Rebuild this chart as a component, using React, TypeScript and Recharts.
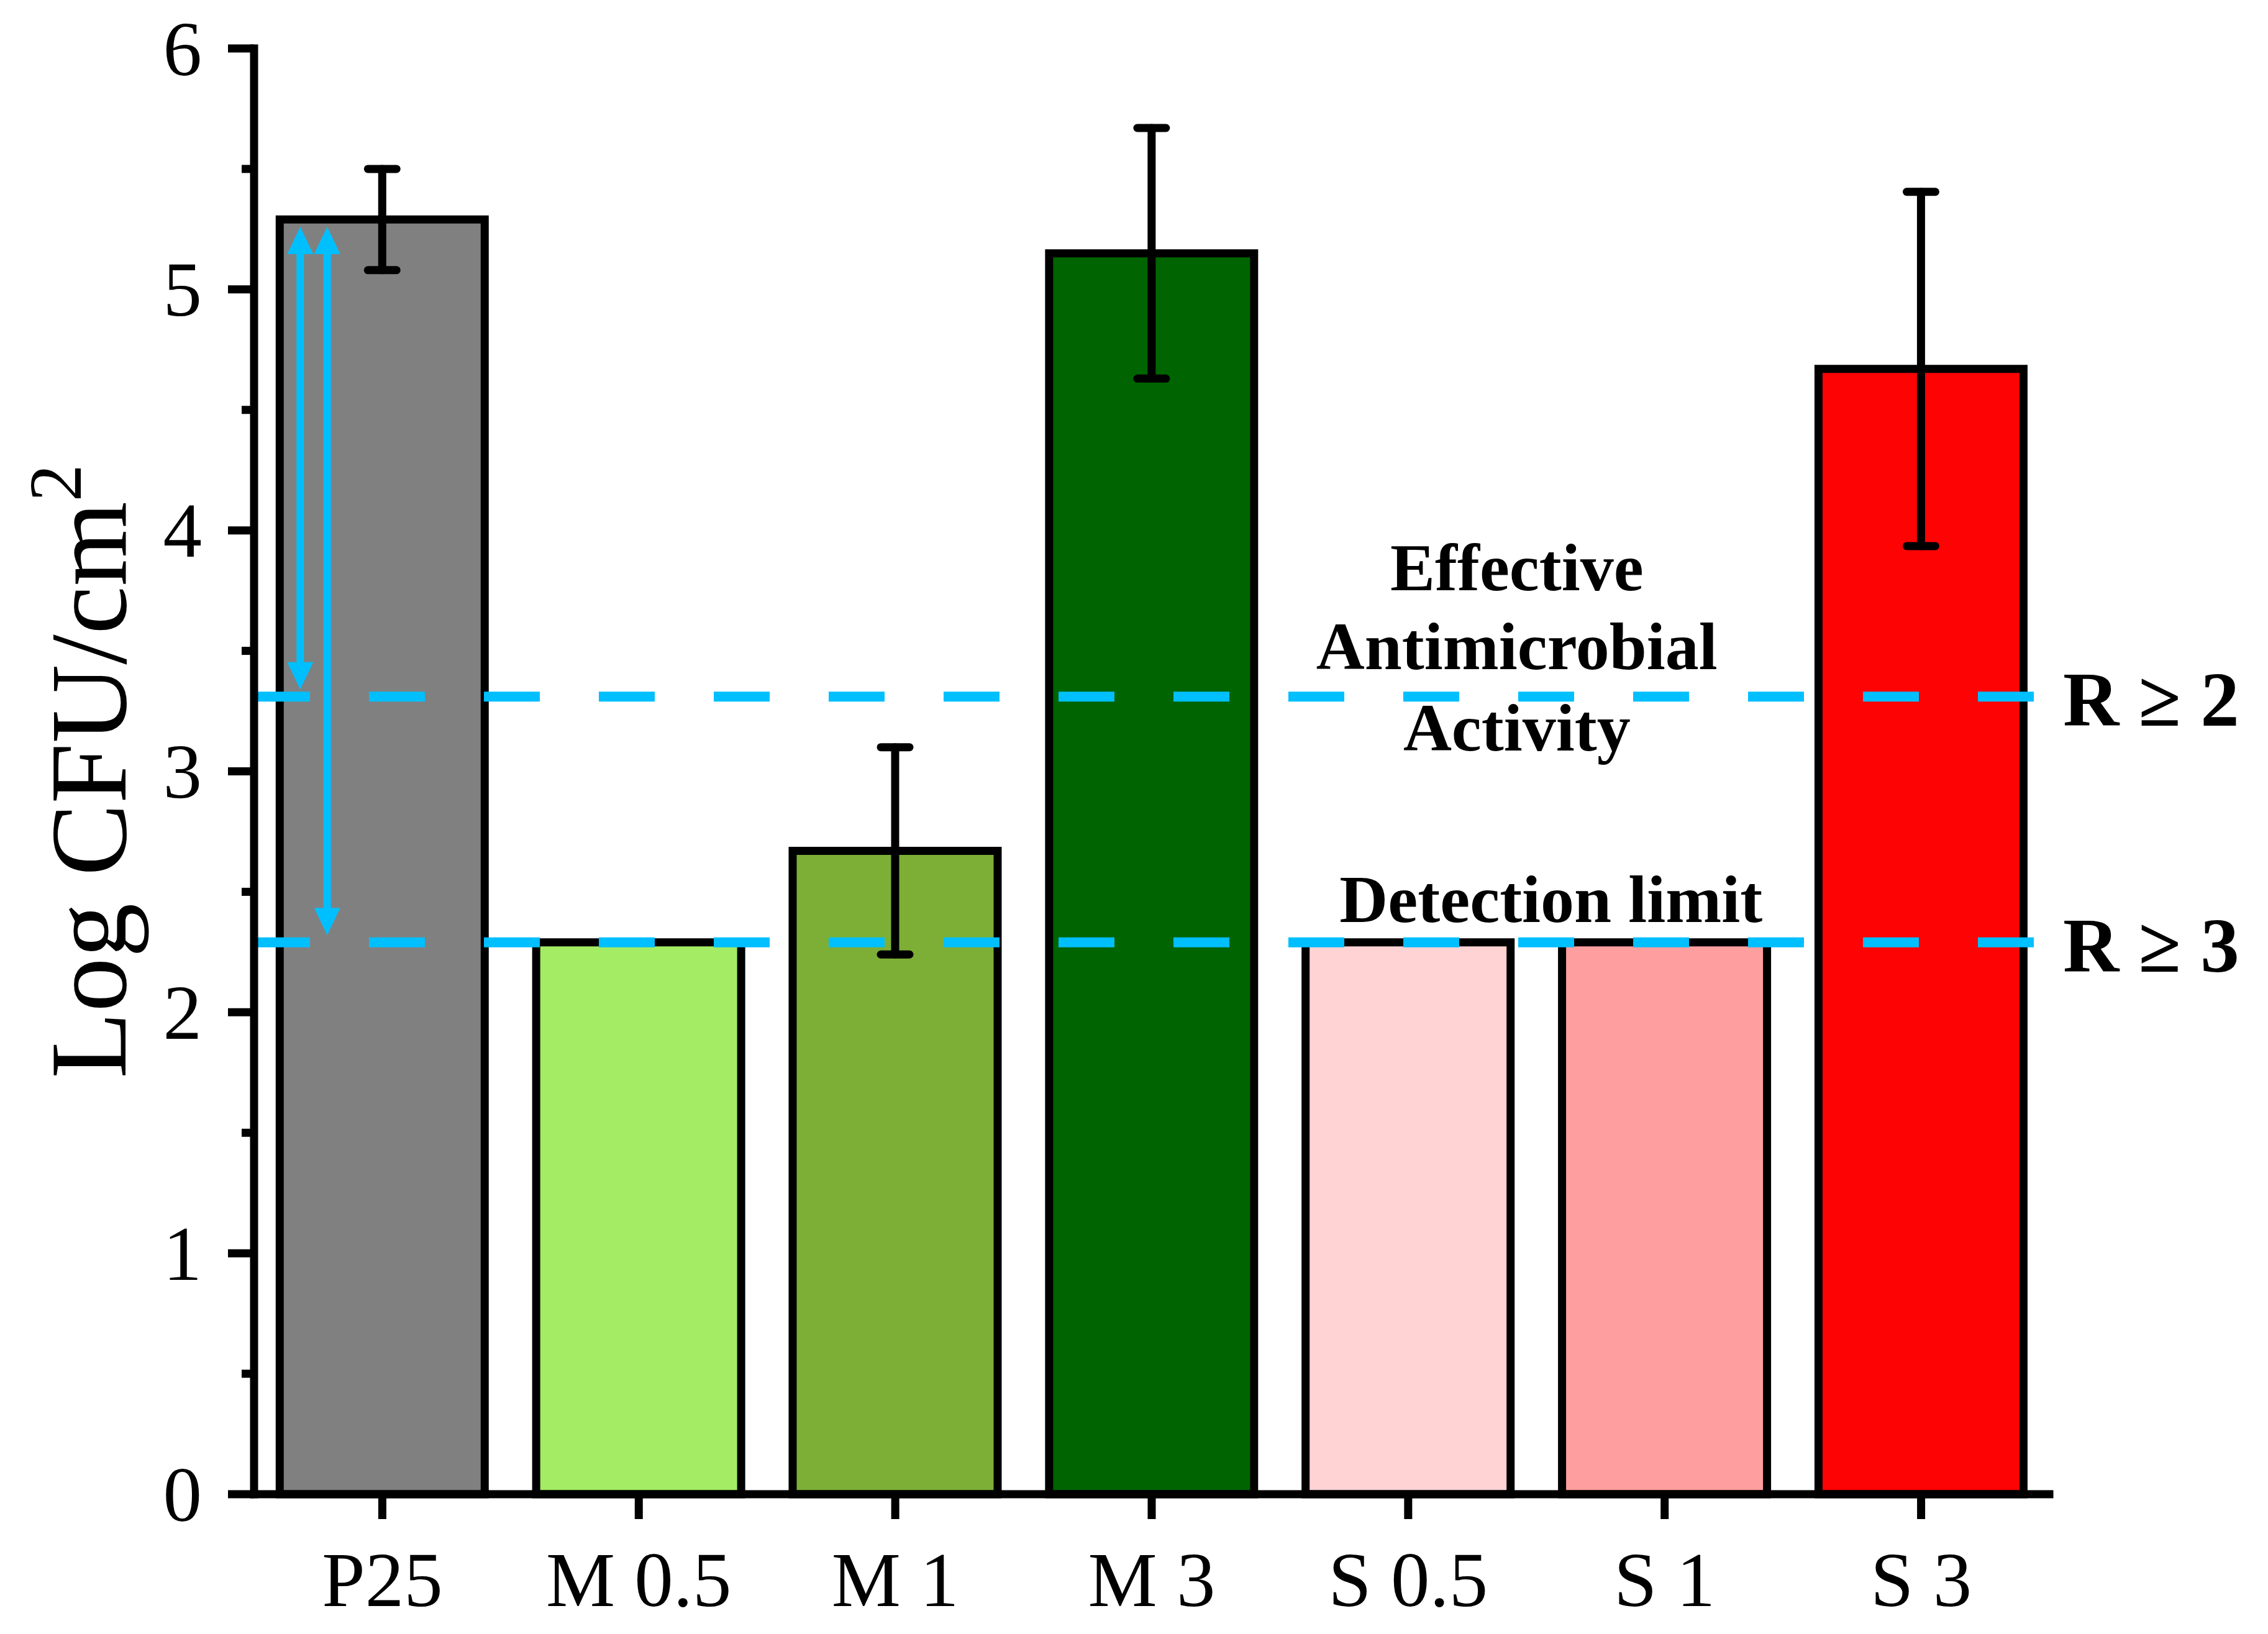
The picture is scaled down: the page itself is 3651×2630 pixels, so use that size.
import React from 'react';
import { BarChart, Bar, XAxis, YAxis, Cell, ErrorBar, ReferenceLine } from 'recharts';

// ---- data ----
const categories = ['P25', 'M 0.5', 'M 1', 'M 3', 'S 0.5', 'S 1', 'S 3'];
const meanValues = [5.29, 2.29, 2.67, 5.15, 2.29, 2.29, 4.67];
const errorValues: (number | null)[] = [0.21, null, 0.43, 0.52, null, null, 0.735];
const barColors = ['#808080', '#A3EC63', '#7DAF37', '#006400', '#FFD3D4', '#FF9E9E', '#FE0303'];
const yTicks = [0, 0.5, 1, 1.5, 2, 2.5, 3, 3.5, 4, 4.5, 5, 5.5, 6];
const thresholdR2 = 3.31;
const thresholdR3 = 2.29;
const arrowXs = [0.18, 0.285]; // positions on a 0..7 category-count scale
const arrowTop = 5.26;
const arrowBottoms = [3.34, 2.32];

const data = categories.map((c, i) => ({ name: c, value: meanValues[i], err: errorValues[i], pos: i + 0.5 }));

// ---- style ----
const FONT = "'Liberation Serif', 'Times New Roman', serif";
const CYAN = '#00BFFF';
const AXIS_W = 13;
const Y_TICK = 42;
const Y_MARGIN = 42;

const YTick = (props: any) => {
  const { x, y, payload } = props;
  const axisX = x + Y_TICK + Y_MARGIN;
  const major = Number.isInteger(payload.value);
  return (
    <g>
      <line x1={axisX - (major ? Y_TICK : 20)} x2={axisX} y1={y} y2={y} stroke="#000" strokeWidth={AXIS_W} />
      {major && (
        <text x={x} y={y} dy="0.34em" textAnchor="end" fontSize={125} fontFamily={FONT} fill="#000">
          {payload.value}
        </text>
      )}
    </g>
  );
};

const ArrowShape = (props: any) => {
  const { x1, y1, x2, y2 } = props;
  const head = 44;
  const half = 21;
  const top = Math.min(y1, y2);
  const bot = Math.max(y1, y2);
  const x = x1;
  return (
    <g>
      <line x1={x} x2={x2} y1={top + head - 4} y2={bot - head + 4} stroke={CYAN} strokeWidth={12} />
      <polygon points={`${x},${top} ${x - half},${top + head} ${x + half},${top + head}`} fill={CYAN} />
      <polygon points={`${x},${bot} ${x - half},${bot - head} ${x + half},${bot - head}`} fill={CYAN} />
    </g>
  );
};

const effectiveLabel = (props: any) => {
  const vb = props.viewBox || {};
  const cx = vb.x + vb.width * 0.7034;
  const common = { fontSize: 108, fontWeight: 'bold', fontFamily: FONT, fill: '#000', textAnchor: 'middle' as const };
  return (
    <g>
      <text x={cx} y={vb.y - 171} {...common}>Effective</text>
      <text x={cx} y={vb.y - 44} {...common}>Antimicrobial</text>
      <text x={cx} y={vb.y + 87} {...common}>Activity</text>
      <text x={vb.x + vb.width + 22} y={vb.y + 47} fontSize={125} fontWeight="bold" fontFamily={FONT} fill="#000">
        R ≥ 2
      </text>
    </g>
  );
};

const detectionLabel = (props: any) => {
  const vb = props.viewBox || {};
  const cx = vb.x + vb.width * 0.7224;
  return (
    <g>
      <text x={cx} y={vb.y - 33} fontSize={108} fontWeight="bold" fontFamily={FONT} fill="#000" textAnchor="middle">
        Detection limit
      </text>
      <text x={vb.x + vb.width + 22} y={vb.y + 47} fontSize={125} fontWeight="bold" fontFamily={FONT} fill="#000">
        R ≥ 3
      </text>
    </g>
  );
};

const yLabel = (props: any) => {
  const vb = props.viewBox || {};
  const cx = vb.x + 43;
  const cy = vb.y + vb.height / 2;
  return (
    <text
      x={cx}
      y={cy}
      transform={`rotate(-90, ${cx}, ${cy})`}
      textAnchor="middle"
      fontSize={175}
      fontFamily={FONT}
      fill="#000"
    >
      Log CFU/cm
      <tspan dy={-72} fontSize={120}>2</tspan>
    </text>
  );
};

export default function App() {
  return (
    <div style={{ width: 3635, height: 2614 }}>
      <BarChart
        width={3635}
        height={2614}
        data={data}
        margin={{ top: 70, right: 344, left: 151, bottom: 0 }}
        barCategoryGap="10%"
      >
        <XAxis
          dataKey="name"
          height={217}
          tickSize={40}
          tickMargin={51}
          interval={0}
          axisLine={{ stroke: '#000', strokeWidth: AXIS_W, strokeLinecap: 'square' }}
          tickLine={{ stroke: '#000', strokeWidth: AXIS_W }}
          tick={{ fontSize: 125, fill: '#000', fontFamily: FONT }}
        />
        <XAxis
          xAxisId="top"
          dataKey="pos"
          orientation="top"
          type="number"
          domain={[0, 7]}
          allowDataOverflow={true}
          height={0}
          tick={false}
          tickLine={false}
          axisLine={{ stroke: '#000', strokeWidth: AXIS_W, strokeLinecap: 'square' }}
        />
        <YAxis
          width={250}
          domain={[0, 6]}
          ticks={yTicks}
          interval={0}
          tickSize={Y_TICK}
          tickMargin={Y_MARGIN}
          tickLine={false}
          tick={<YTick />}
          axisLine={{ stroke: '#000', strokeWidth: AXIS_W, strokeLinecap: 'square' }}
          label={{ content: yLabel }}
        />
        <YAxis
          yAxisId="right"
          orientation="right"
          width={0}
          domain={[0, 6]}
          tick={false}
          tickLine={false}
          axisLine={{ stroke: '#000', strokeWidth: AXIS_W, strokeLinecap: 'square' }}
        />
        <Bar dataKey="value" stroke="#000" strokeWidth={AXIS_W} isAnimationActive={false}>
          {data.map((d, i) => (
            <Cell key={d.name} fill={barColors[i]} />
          ))}
          <ErrorBar dataKey="err" direction="y" width={23} stroke="#000" strokeWidth={AXIS_W} strokeLinecap="round" />
        </Bar>
        <ReferenceLine
          y={thresholdR2}
          stroke={CYAN}
          strokeWidth={16}
          strokeDasharray="90 95"
          label={effectiveLabel}
        />
        <ReferenceLine
          y={thresholdR3}
          stroke={CYAN}
          strokeWidth={16}
          strokeDasharray="90 95"
          label={detectionLabel}
        />
        {arrowXs.map((ax, i) => (
          <ReferenceLine
            key={i}
            xAxisId="top"
            segment={[
              { x: ax, y: arrowTop },
              { x: ax, y: arrowBottoms[i] },
            ]}
            stroke={CYAN}
            shape={ArrowShape}
          />
        ))}
      </BarChart>
    </div>
  );
}
